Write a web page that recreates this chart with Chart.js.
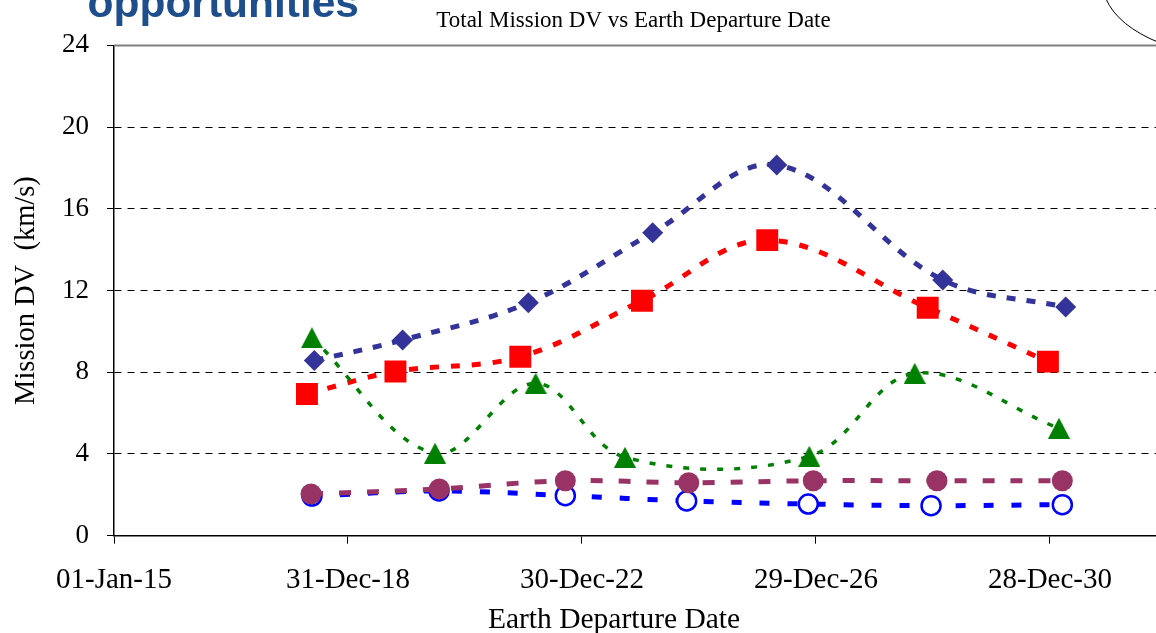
<!DOCTYPE html>
<html>
<head>
<meta charset="utf-8">
<script src="https://cdn.jsdelivr.net/npm/chart.js@4/dist/chart.umd.min.js"></script>
<style>
  html, body { margin: 0; padding: 0; background: #fff; overflow: hidden; width: 1156px; height: 633px; }
  #wrap { position: absolute; left: 0; top: 0; width: 1200px; height: 633px; }
</style>
</head>
<body>
<div id="wrap"><canvas id="c" width="1200" height="633"></canvas></div>
<script>
// Axis ticks
const xTickDates  = ['2015-01-01', '2018-12-31', '2022-12-30', '2026-12-29', '2030-12-28'];
const xTickLabels = ['01-Jan-15', '31-Dec-18', '30-Dec-22', '29-Dec-26', '28-Dec-30'];
const yTicks = [0, 4, 8, 12, 16, 20, 24];

// Departure dates and total mission DV (km/s) per trajectory family
const diamondDates = ['2018-06-04', '2019-12-07', '2022-01-29', '2024-03-15', '2026-04-28', '2029-02-27', '2031-04-05'];
const diamondDV    = [8.57, 9.58, 11.40, 14.83, 18.14, 12.52, 11.19];

const squareDates  = ['2018-04-19', '2019-10-23', '2021-12-10', '2024-01-08', '2026-02-28', '2028-11-25', '2030-12-15'];
const squareDV     = [6.94, 8.04, 8.76, 11.50, 14.47, 11.16, 8.52];

const triangleDates = ['2018-05-20', '2020-06-26', '2022-03-16', '2023-09-24', '2026-11-17', '2028-09-05', '2031-02-22'];
const triangleDV    = [9.69, 4.04, 7.46, 3.84, 3.89, 7.95, 5.26];

const circleDates  = ['2018-05-14', '2020-07-23', '2022-09-17', '2024-10-26', '2026-12-12', '2029-01-22', '2031-03-15'];
const circleDV     = [2.04, 2.29, 2.69, 2.59, 2.69, 2.69, 2.69];

const ringDates    = ['2018-05-20', '2020-07-21', '2022-09-17', '2024-10-13', '2026-11-11', '2028-12-16', '2031-03-15'];
const ringDV       = [1.94, 2.19, 1.96, 1.70, 1.55, 1.47, 1.52];

const toMs = s => Date.parse(s + 'T00:00:00Z');
const xTickValues = xTickDates.map(toMs);
const xMin = toMs('2015-01-01');
const xMax = toMs('2033-07-21');

const points = (dates, vals) => dates.map((d, i) => ({ x: toMs(d), y: vals[i] }));

// Isosceles triangle marker (as wide as it is tall)
function triangleMarker(w, h, color) {
  const c = document.createElement('canvas');
  c.width = w; c.height = h;
  const g = c.getContext('2d');
  g.fillStyle = color;
  g.beginPath();
  g.moveTo(w / 2, 0);
  g.lineTo(w, h);
  g.lineTo(0, h);
  g.closePath();
  g.fill();
  return c;
}

const SERIF = '"Liberation Serif", "Times New Roman", serif';

const decor = {
  id: 'decor',
  beforeDatasetsDraw(chart) {
    const { ctx, chartArea: a } = chart;
    ctx.save();
    ctx.strokeStyle = '#808080';
    ctx.lineWidth = 2;
    ctx.beginPath();
    ctx.moveTo(a.left, a.top);
    ctx.lineTo(a.right, a.top);
    ctx.stroke();
    ctx.restore();
  },
  afterDraw(chart) {
    const { ctx, chartArea: a } = chart;
    ctx.save();
    // slide heading
    ctx.fillStyle = '#1F4E8C';
    ctx.font = 'bold 42.5px "Liberation Sans", Arial, sans-serif';
    ctx.textAlign = 'left';
    ctx.textBaseline = 'alphabetic';
    ctx.fillText('opportunities', 87.5, 17);

    // chart title
    ctx.fillStyle = '#000';
    ctx.font = '23px ' + SERIF;
    ctx.textAlign = 'center';
    ctx.fillText('Total Mission DV vs Earth Departure Date', 633.5, 26.5);

    // axis titles
    ctx.font = '29.5px ' + SERIF;
    ctx.fillText('Earth Departure Date', 614, 628);
    ctx.save();
    ctx.translate(33.5, (a.top + a.bottom) / 2);
    ctx.rotate(-Math.PI / 2);
    ctx.font = '28.5px ' + SERIF;
    ctx.fillText('Mission DV  (km/s)', 0, 0);
    ctx.restore();

    // slide border arc
    ctx.strokeStyle = '#000';
    ctx.lineWidth = 1;
    ctx.beginPath();
    ctx.moveTo(1106, -1);
    ctx.quadraticCurveTo(1118, 26, 1160, 43);
    ctx.stroke();
    ctx.restore();
  }
};

const lineBase = { fill: false, tension: 0.36, pointBorderWidth: 0, pointHoverRadius: 0 };

const noPad = s => { s.paddingLeft = 0; s.paddingRight = 0; };

new Chart(document.getElementById('c'), {
  type: 'line',
  data: {
    datasets: [
      Object.assign({}, lineBase, {
        label: 'circle', data: points(circleDates, circleDV),
        borderColor: '#993366', borderWidth: 5, borderDash: [12, 16],
        pointStyle: 'circle', pointRadius: 10.5, pointBackgroundColor: '#993366'
      }),
      Object.assign({}, lineBase, {
        label: 'triangle', data: points(triangleDates, triangleDV),
        borderColor: '#008000', borderWidth: 3.5, borderDash: [6, 11],
        pointStyle: triangleMarker(22, 21, '#008000'), pointRadius: 11, pointBackgroundColor: '#008000'
      }),
      Object.assign({}, lineBase, {
        label: 'square', data: points(squareDates, squareDV),
        borderColor: '#FF0000', borderWidth: 5, borderDash: [9, 12],
        pointStyle: 'rect', pointRadius: 15.5, pointBackgroundColor: '#FF0000'
      }),
      Object.assign({}, lineBase, {
        label: 'diamond', data: points(diamondDates, diamondDV),
        borderColor: '#333399', borderWidth: 5, borderDash: [9, 11],
        pointStyle: 'rectRot', pointRadius: 10.5, pointBackgroundColor: '#333399'
      }),
      Object.assign({}, lineBase, {
        label: 'ring', data: points(ringDates, ringDV),
        borderColor: '#0000FF', borderWidth: 5, borderDash: [10, 18],
        pointStyle: 'circle', pointRadius: 9.5, pointBorderWidth: 2.5,
        pointBorderColor: '#0000FF', pointBackgroundColor: '#FFFFFF'
      })
    ]
  },
  options: {
    responsive: false,
    animation: false,
    events: [],
    layout: { autoPadding: false, padding: { top: 45.4, left: 0, right: 0, bottom: 0 } },
    plugins: { legend: { display: false }, tooltip: { enabled: false }, title: { display: false } },
    scales: {
      x: {
        type: 'linear', min: xMin, max: xMax,
        afterBuildTicks: s => { s.ticks = xTickValues.map(v => ({ value: v })); },
        afterFit: s => { s.height = 97.3; noPad(s); },
        ticks: {
          autoSkip: false, maxRotation: 0, padding: 19, color: '#000',
          font: { family: SERIF, size: 29 },
          callback: v => { const i = xTickValues.indexOf(v); return i >= 0 ? xTickLabels[i] : ''; }
        },
        grid: { drawOnChartArea: false, drawTicks: true, tickLength: 8, tickColor: '#000', tickWidth: 1 },
        border: { display: true, color: '#000', width: 1.5 }
      },
      y: {
        min: 0, max: 24,
        afterBuildTicks: s => { s.ticks = yTicks.map(v => ({ value: v })); },
        afterFit: s => { s.width = 114; noPad(s); },
        ticks: { padding: 18, color: '#000', font: { family: SERIF, size: 27 } },
        grid: {
          color: c => (c.tick && c.tick.value > 0 && c.tick.value < 24) ? '#000' : 'rgba(0,0,0,0)',
          lineWidth: 1, drawTicks: true, tickLength: 7, tickColor: '#000', tickWidth: 1
        },
        border: { display: true, color: '#000', width: 1.5, dash: [7, 6] }
      }
    }
  },
  plugins: [decor]
});
</script>
</body>
</html>
